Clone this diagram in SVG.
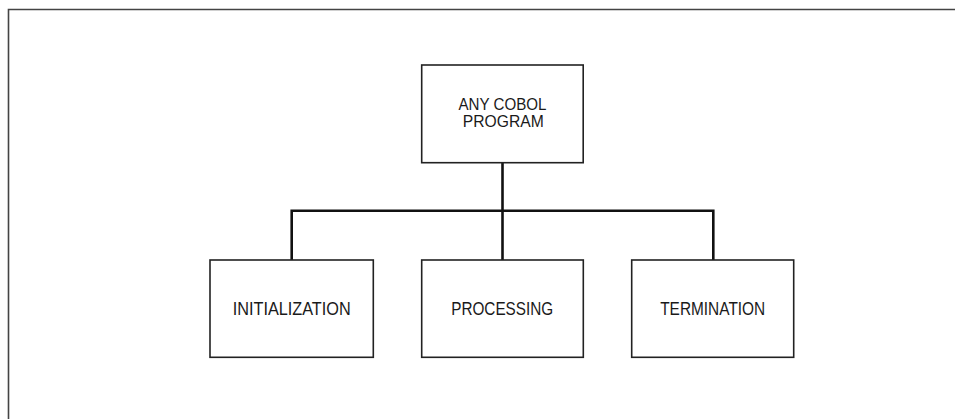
<svg xmlns="http://www.w3.org/2000/svg" width="955" height="419" viewBox="0 0 955 419">
<style>
.box{fill:#fff;stroke:#222;stroke-width:1.6}
.lbl{font-family:"Liberation Sans",Arial,sans-serif;font-size:18.5px;fill:#1a1a1a;text-anchor:middle}
.lbl2{font-size:17px}
.conn{fill:none;stroke:#111;stroke-width:2.6}
.frame{fill:none;stroke:#444;stroke-width:1.6}
</style>
<rect width="955" height="419" fill="#fff"/>
<path class="frame" d="M8.5,419 V9.5 H955"/>
<g id="connectors">
<path class="conn" d="M502.5,162.7 V210.7"/>
<path class="conn" d="M291.7,260 V210.7 H713.3 V260"/>
<path class="conn" d="M502.5,210.7 V260"/>
</g>
<g id="node-program">
<rect class="box" x="421.7" y="65" width="161.5" height="97.7"/>
<text class="lbl lbl2" x="502.5" y="110" textLength="88" lengthAdjust="spacingAndGlyphs">ANY COBOL</text>
<text class="lbl lbl2" x="503.3" y="127.3" textLength="81" lengthAdjust="spacingAndGlyphs">PROGRAM</text>
</g>
<g id="node-init">
<rect class="box" x="210" y="260" width="163.3" height="97.3"/>
<text class="lbl" x="291.7" y="315" textLength="118" lengthAdjust="spacingAndGlyphs">INITIALIZATION</text>
</g>
<g id="node-proc">
<rect class="box" x="421.7" y="260" width="161.6" height="97.3"/>
<text class="lbl" x="502.2" y="314.5" textLength="102" lengthAdjust="spacingAndGlyphs">PROCESSING</text>
</g>
<g id="node-term">
<rect class="box" x="631.7" y="260" width="162" height="97.3"/>
<text class="lbl" x="712.7" y="314.5" textLength="105" lengthAdjust="spacingAndGlyphs">TERMINATION</text>
</g>
</svg>
